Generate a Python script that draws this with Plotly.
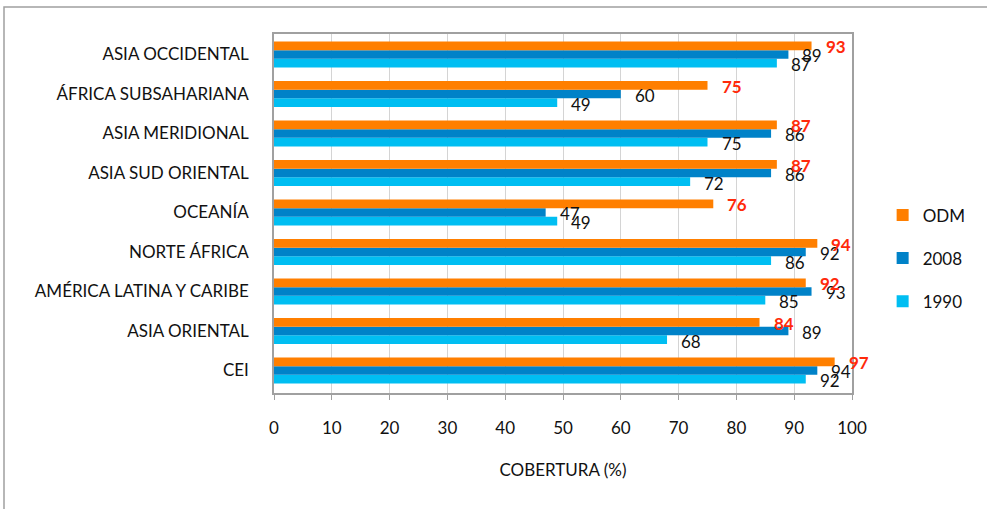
import plotly.graph_objects as go

categories = ["ASIA OCCIDENTAL", "ÁFRICA SUBSAHARIANA", "ASIA MERIDIONAL",
              "ASIA SUD ORIENTAL", "OCEANÍA", "NORTE ÁFRICA",
              "AMÉRICA LATINA Y CARIBE", "ASIA ORIENTAL", "CEI"]
v1990 = [87, 49, 75, 72, 49, 86, 85, 68, 92]
v2008 = [89, 60, 86, 86, 47, 92, 93, 89, 94]
vODM = [93, 75, 87, 87, 76, 94, 92, 84, 97]
x_ticks = [0, 10, 20, 30, 40, 50, 60, 70, 80, 90, 100]

FONT = "Lato"
C_ODM = "#FF7F00"
C_2008 = "#0082C8"
C_1990 = "#00BEF2"

fig = go.Figure()
series = [("1990", v1990, C_1990, 3), ("2008", v2008, C_2008, 2), ("ODM", vODM, C_ODM, 1)]
for name, vals, col, rank in series:
    fig.add_trace(go.Bar(
        y=categories, x=vals, name=name, orientation="h",
        marker=dict(color=col, line=dict(width=0)),
        legendgroup=name, legendrank=rank,
    ))

annotations = []
shifts = {"1990": -9, "2008": 0, "ODM": 9}
for name, vals, col, rank in series:
    for cat, v in zip(categories, vals):
        is_odm = name == "ODM"
        annotations.append(dict(
            x=v, y=cat, xref="x", yref="y", text=str(v), showarrow=False,
            xanchor="left", yanchor="middle", xshift=12, yshift=shifts[name] - 1,
            font=dict(family=FONT, size=17,
                      color="#FF2A0A" if is_odm else "#111111",
                      weight="bold" if is_odm else "normal"),
        ))

fig.update_layout(
    width=987, height=509,
    margin=dict(l=274, r=135, t=34, b=116, autoexpand=False),
    paper_bgcolor="white", plot_bgcolor="white",
    barmode="group", bargap=0.34, bargroupgap=0,
    font=dict(family=FONT, size=17, color="#111111"),
    annotations=annotations,
    showlegend=True,
    legend=dict(
        x=1.053, y=0.375, xanchor="left", yanchor="middle",
        traceorder="grouped", tracegroupgap=18,
        font=dict(family=FONT, size=17, color="#111111"),
        itemwidth=30, bgcolor="rgba(0,0,0,0)",
    ),
    xaxis=dict(
        range=[0, 100], tickvals=x_ticks, ticktext=[str(t) for t in x_ticks],
        showgrid=True, gridcolor="#D4D4D4", gridwidth=1,
        showline=True, linecolor="#A0A0A0", linewidth=1.5, mirror=True,
        ticks="outside", ticklen=5, tickcolor="#A0A0A0",
        zeroline=False, ticklabelstandoff=14,
        tickfont=dict(family=FONT, size=17),
        title=dict(text="COBERTURA (%)", font=dict(family=FONT, size=17), standoff=27),
    ),
    yaxis=dict(
        type="category", categoryorder="array", categoryarray=list(reversed(categories)),
        showline=True, linecolor="#A0A0A0", linewidth=1.5, mirror=True,
        showgrid=False, ticks="", ticklabelstandoff=20,
        tickfont=dict(family=FONT, size=17),
    ),
    shapes=[dict(
        type="rect", xref="paper", yref="paper",
        x0=(4 - 274) / 578, x1=(1000 - 274) / 578,
        y0=(393 - 520) / 359, y1=(393 - 7) / 359,
        line=dict(color="#A0A0A0", width=1.5), fillcolor="rgba(0,0,0,0)", layer="below",
    )],
)

fig.write_html("out.html")
